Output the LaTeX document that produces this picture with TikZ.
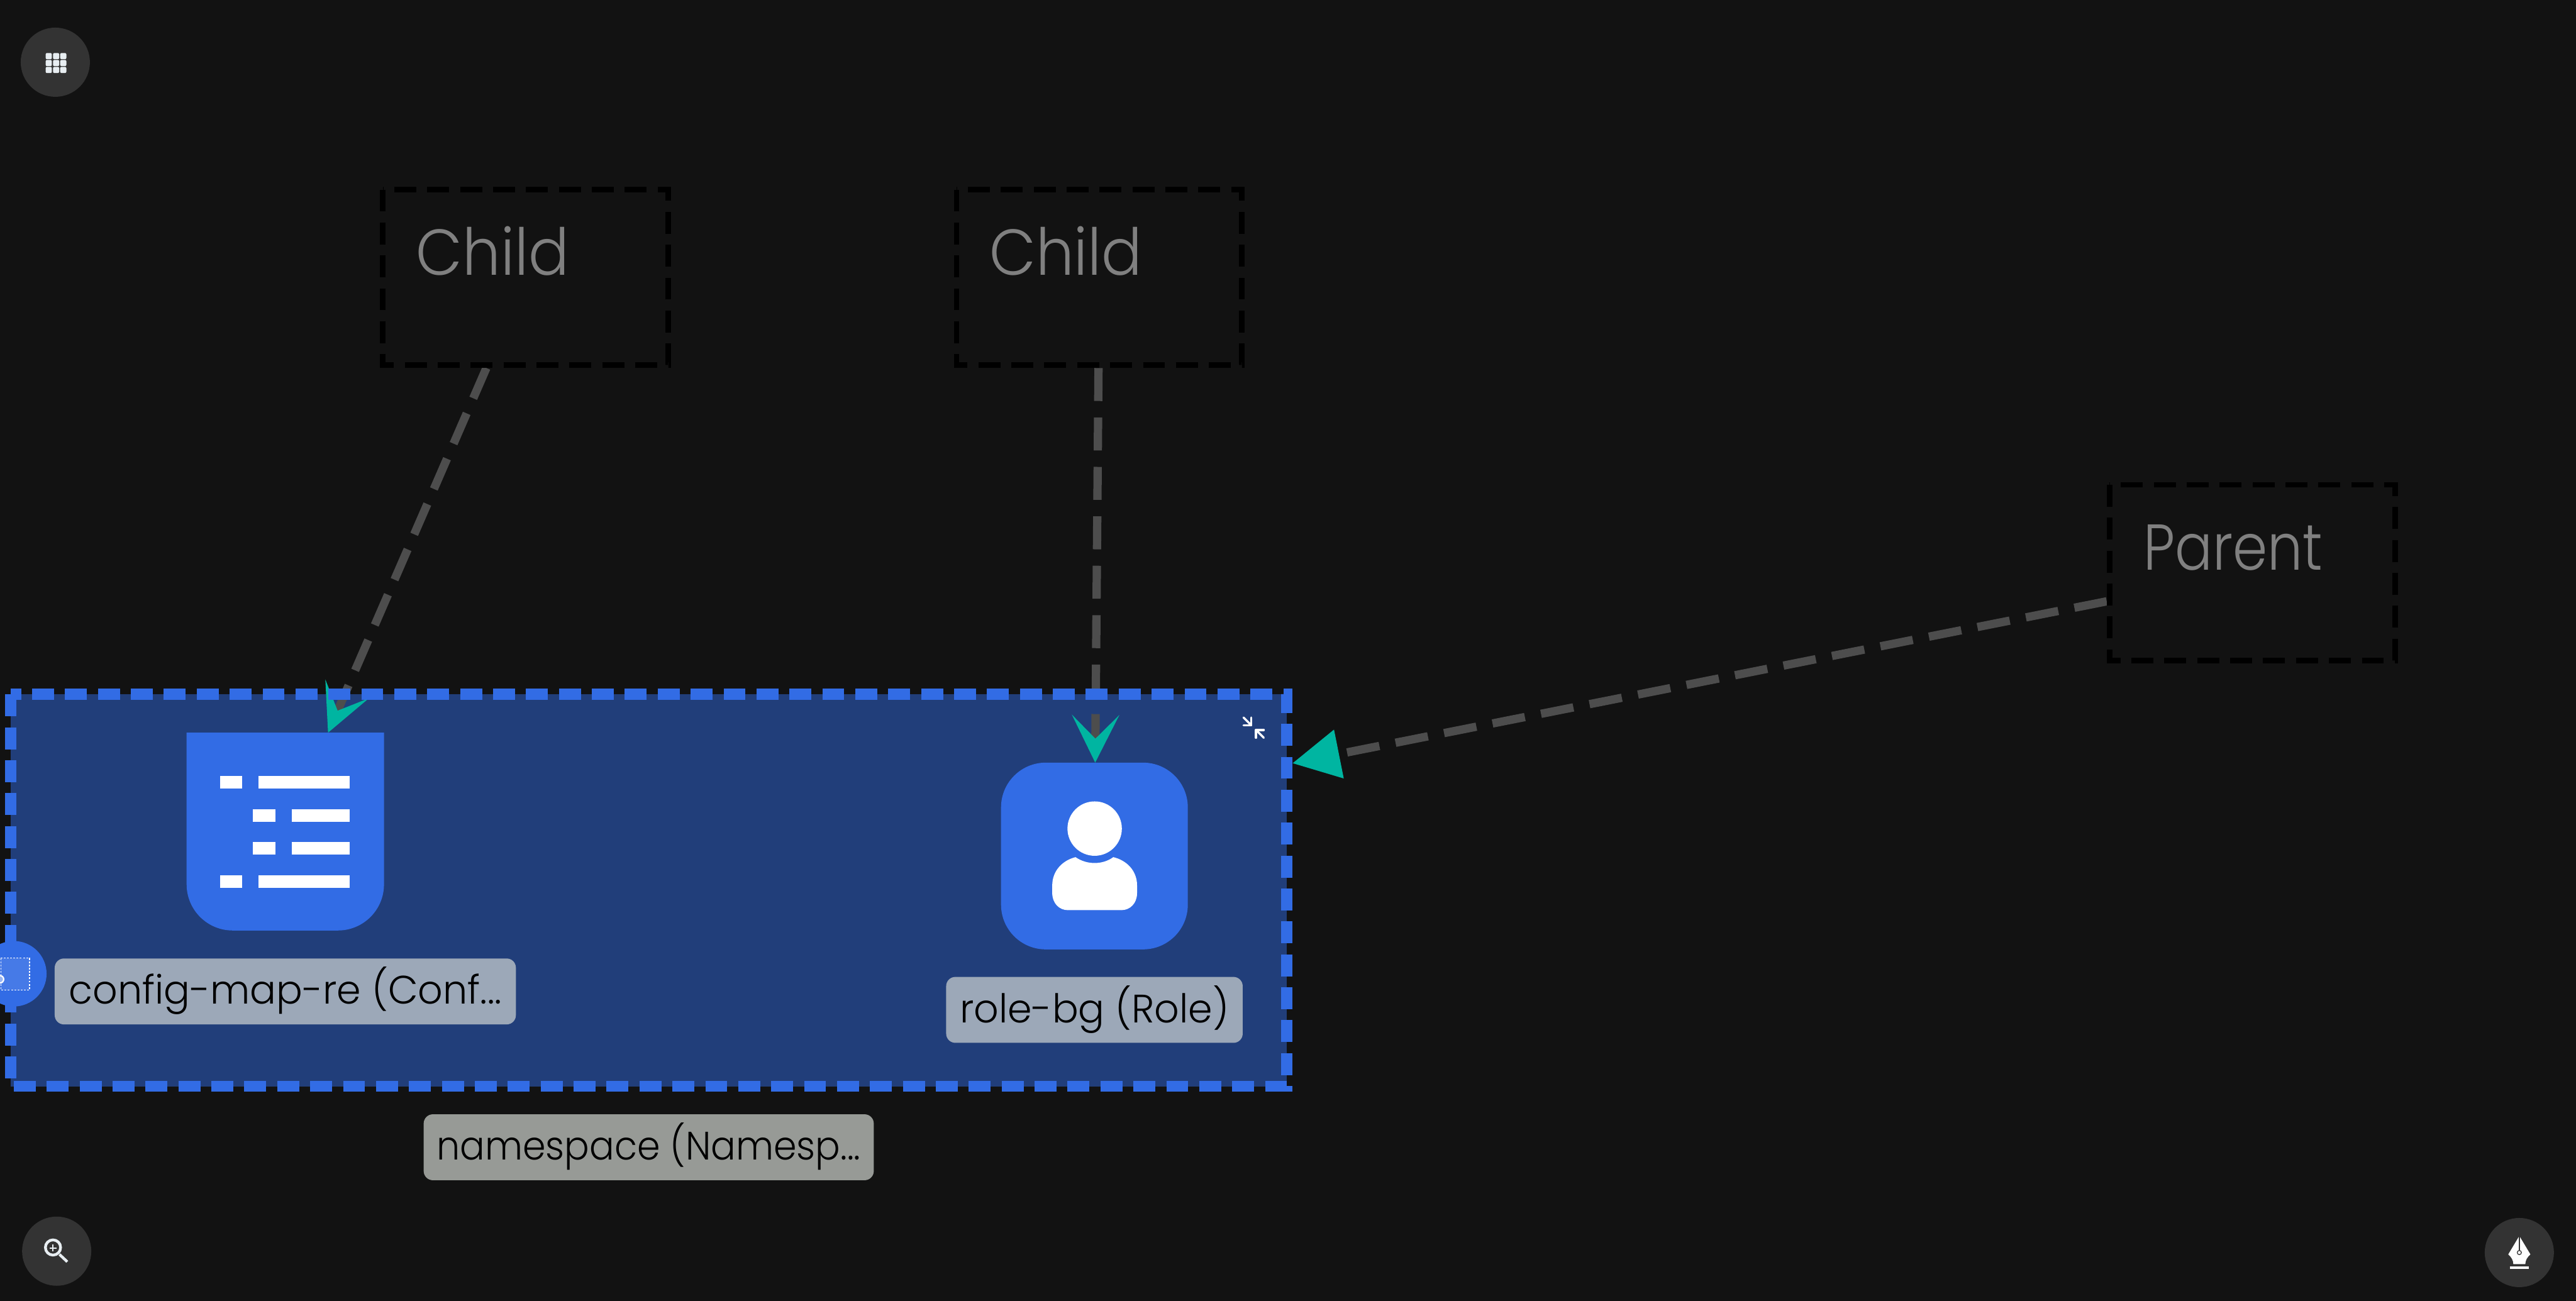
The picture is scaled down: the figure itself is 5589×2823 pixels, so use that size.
\documentclass[tikz,border=0pt]{standalone}
\usepackage{fontspec}
\setmainfont{Poppins}
\newfontfamily\childfont[FakeStretch=0.93]{Poppins Light}
\newfontfamily\parentfont[FakeStretch=0.86]{Poppins Light}
\newfontfamily\labelfont[FakeStretch=0.98]{Poppins Light}
\newfontfamily\nslabelfont[FakeStretch=0.93]{Poppins Light}
\definecolor{bgdark}{HTML}{121212}
\definecolor{btngray}{HTML}{333333}
\definecolor{btnicon}{HTML}{E8EEF2}
\definecolor{k8sblue}{HTML}{326CE5}
\definecolor{nsfill}{HTML}{213E7A}
\definecolor{edgegray}{HTML}{4D4D4D}
\definecolor{tipteal}{HTML}{00B5A1}
\definecolor{ghosttext}{HTML}{808080}
\definecolor{labelblue}{HTML}{9CA8B8}
\definecolor{labelgray}{HTML}{979A96}
\usetikzlibrary{arrows.meta, positioning, shapes.geometric}
\tikzset{
    ghostbox/.style={minimum width=6.19cm, minimum height=3.81cm, inner sep=0pt, outer sep=0.06cm},
    ghosttxt/.style={anchor=base west, inner sep=0pt, text=ghosttext, font=\fontsize{40}{48}\childfont},
    ghostframe/.style={black, line width=0.12cm, dash pattern=on 0.476cm off 0.238cm},
    nsframe/.style={k8sblue, line width=0.24cm, dash pattern=on 0.476cm off 0.238cm},
    reslabel/.style={rounded corners=0.2cm, inner sep=0pt, minimum height=1.43cm, text height=0.99cm,
        text depth=0.44cm, text=black, font=\fontsize{24.5}{30}\labelfont},
    toolbtn/.style={circle, fill=btngray, minimum size=1.5cm, inner sep=0pt},
    depedge/.style={edgegray, line width=0.18cm, dash pattern=on 0.715cm off 0.357cm},
    arrowhead/.style={-{Stealth[length=1.03cm, width=1.02cm, inset=0.51cm, color=tipteal]}},
}
% dashed frame that starts at the top left corner and runs down first
\newcommand{\dashframe}[3]{
    \draw[#2] ([xshift=#3,yshift=-#3]#1.north west) -- ([xshift=#3,yshift=#3]#1.south west)
        -- ([xshift=-#3,yshift=#3]#1.south east) -- ([xshift=-#3,yshift=-#3]#1.north east) -- cycle;
}
\begin{document}
\begin{tikzpicture}[x=0.01cm, y=-0.01cm]
    \path[use as bounding box, fill=bgdark] (0,0) rectangle (5589,2823);
    \clip (0,0) rectangle (5589,2823);

    % Ghost boxes at the top
    \node[ghostbox] (child1) at (1140.5,602) {};
    \node[ghostbox] (child2) at (2385,602) {};
    \node[ghostbox] (parent) at (4886.5,1242.5) {};

    % Namespace group
    \node[fill=nsfill, minimum width=27.67cm, minimum height=8.5cm, inner sep=0pt, outer sep=0.12cm] (namespace) at (1407.5,1932) {};
    \node[reslabel, fill=labelgray, minimum width=9.76cm, font=\fontsize{24.5}{30}\nslabelfont, below=0.48cm of namespace] (nslabel) {namespace (Namesp...};

    % ConfigMap icon and its label
    \node[minimum width=4.28cm, minimum height=4.29cm, inner sep=0pt, outer sep=0pt] (configmap) at (619,1804.5) {};
    \fill[k8sblue] (configmap.north west) [rounded corners=1cm] -- (configmap.south west)
        -- (configmap.south east) [sharp corners] -- (configmap.north east) -- cycle;
    \fill[white] (477,1684) rectangle (526,1711);
    \fill[white] (561,1684) rectangle (758,1711);
    \fill[white] (548,1756) rectangle (597,1783);
    \fill[white] (633,1756) rectangle (758,1783);
    \fill[white] (548,1827) rectangle (597,1854);
    \fill[white] (633,1827) rectangle (758,1854);
    \fill[white] (477,1899) rectangle (526,1926);
    \fill[white] (561,1899) rectangle (758,1926);
    \node[reslabel, fill=labelblue, minimum width=10cm, below=0.6cm of configmap] (cmlabel) {config-map-re (Conf...};

    % Role icon and its label
    \node[fill=k8sblue, rounded corners=0.97cm, minimum size=4.05cm, inner sep=0pt, outer sep=0pt] (role) at (2374.5,1857.5) {};
    \fill[white] (2375,1798) circle[radius=59];
    \fill[white] (2333.5,1860) .. controls (2358,1877) and (2392,1877) .. (2415.5,1860)
        .. controls (2445,1867) and (2467,1890) .. (2467,1921) -- (2467,1938)
        .. controls (2467,1960) and (2452,1975) .. (2433,1975) -- (2317,1975)
        .. controls (2298,1975) and (2283,1960) .. (2283,1938) -- (2283,1921)
        .. controls (2283,1890) and (2305,1867) .. (2333.5,1860) -- cycle;
    \node[reslabel, fill=labelblue, minimum width=6.43cm, below=0.59cm of role] (rolelabel) {role-bg (Role)};

    % Collapse mark in the corner of the group
    \draw[white, line width=0.045cm, line cap=round, line join=round] (2698,1557) -- (2715,1574);
    \draw[white, line width=0.045cm, line cap=round, line join=round] (2715,1557) -- (2715,1574) -- (2698,1574);
    \draw[white, line width=0.045cm, line cap=round, line join=round] (2742,1601) -- (2725,1584);
    \draw[white, line width=0.045cm, line cap=round, line join=round] (2742,1584) -- (2725,1584) -- (2725,1601);

    % Dependency edges
    \draw[depedge, arrowhead] (child1) -- (configmap);
    \draw[depedge, arrowhead] (child2) -- (role);
    \draw[depedge, -{Triangle[length=1.03cm, width=1.03cm, color=tipteal]}] (parent) -- (namespace);

    % Dashed frames and ghost texts
    \dashframe{child1}{ghostframe}{0.06cm}
    \dashframe{child2}{ghostframe}{0.06cm}
    \dashframe{parent}{ghostframe}{0.06cm}
    \dashframe{namespace}{nsframe}{0.12cm}
    \node[ghosttxt] (child1txt) at (902,597) {Child};
    \node[ghosttxt] (child2txt) at (2146,597) {Child};
    \node[ghosttxt, font=\fontsize{40}{48}\parentfont] (parenttxt) at (4650,1237) {Parent};

    % Small badge cut by the left border
    \node[circle, fill=k8sblue, minimum size=1.42cm, inner sep=0pt] (badge) at (30,2113) {};
    \draw[white, fill=white, fill opacity=0.1, line width=0.018cm, dash pattern=on 0.04cm off 0.03cm] (2,2079) rectangle (64,2148);
    \draw[white, line width=0.03cm, fill=k8sblue!50!white] (0,2125) circle[radius=8];

    % Buttons in the corners
    \node[toolbtn] (gridbtn) at (120,135) {};
    \foreach \col in {99,115,130.5} {
        \foreach \row in {115,130,145} {
            \fill[btnicon, rounded corners=0.03cm] (\col,\row) rectangle ++(13.5,13.5);
        }
    }
    \node[toolbtn] (zoombtn) at (123,2715) {};
    \draw[btnicon, line width=0.06cm] (115,2707) circle[radius=16.5];
    \draw[btnicon, line width=0.06cm] (129,2722) -- (146,2738);
    \draw[btnicon, line width=0.025cm] (107.5,2708) -- (122.5,2708);
    \draw[btnicon, line width=0.025cm] (115,2700) -- (115,2715);
    \node[toolbtn] (penbtn) at (5466,2718) {};
    \fill[white!96!btnicon] (5466,2682) -- (5490,2722) .. controls (5483,2728) and (5479,2735) .. (5479,2743)
        -- (5453,2743) .. controls (5453,2735) and (5449,2728) .. (5442,2722) -- cycle;
    \draw[btngray, line width=0.017cm] (5466,2680) -- (5466,2714);
    \draw[btngray, line width=0.017cm] (5466,2718) circle[radius=4.5];
    \fill[white!96!btnicon] (5446,2748) rectangle (5486,2754);
\end{tikzpicture}
\end{document}
